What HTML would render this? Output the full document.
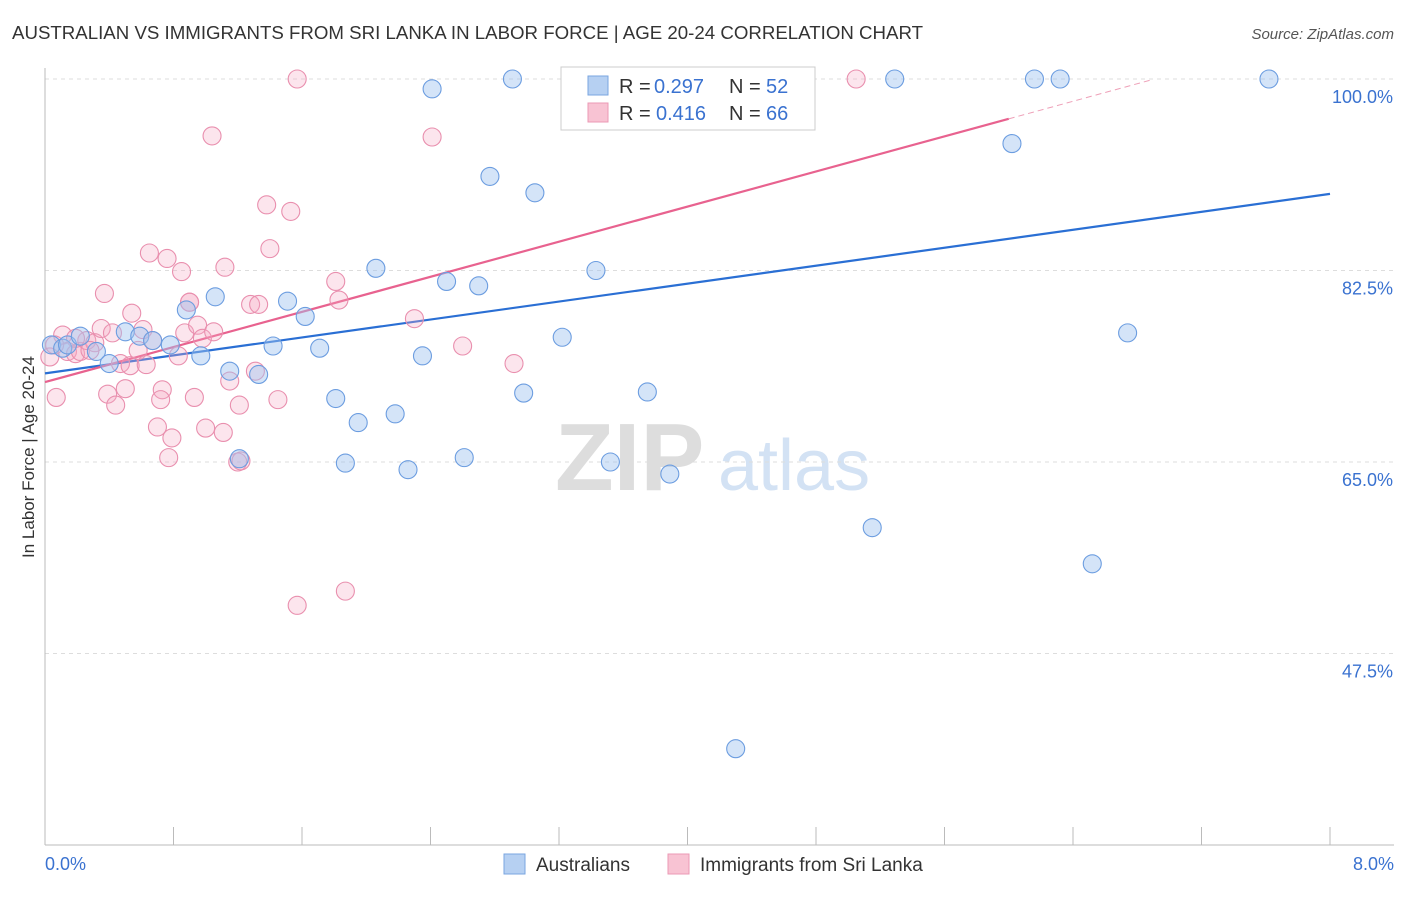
<!DOCTYPE html>
<html><head><meta charset="utf-8"><style>
body{margin:0;background:#fff;font-family:"Liberation Sans",sans-serif}
svg text{font-family:"Liberation Sans",sans-serif}
</style></head><body>
<svg id="chart" width="1406" height="892" viewBox="0 0 1406 892" xmlns="http://www.w3.org/2000/svg">
<text x="12" y="39" font-size="18" fill="#333" textLength="911" lengthAdjust="spacingAndGlyphs">AUSTRALIAN VS IMMIGRANTS FROM SRI LANKA IN LABOR FORCE | AGE 20-24 CORRELATION CHART</text>
<text x="1394" y="39" font-size="15" fill="#555" text-anchor="end" font-style="italic">Source: ZipAtlas.com</text>
<g>
<text x="555" y="490" font-size="96" fill="#ddd" font-family="Liberation Serif,serif" font-weight="bold">ZIP</text>
<text x="718" y="490" font-size="72" fill="#d3e2f4">atlas</text>
</g>
<g id="grid"></g><g id="axes"></g><g id="lines"></g><g id="pts"></g>
<text transform="translate(34,457) rotate(-90)" font-size="17" fill="#333" text-anchor="middle">In Labor Force | Age 20-24</text>
<g>
<rect x="561" y="67" width="254" height="63" fill="#fff" stroke="#ccc"/>
<rect x="588" y="76" width="20" height="19" fill="#b6d0f2" stroke="#7aa6e0"/>
<rect x="588" y="103" width="20" height="19" fill="#f8c3d3" stroke="#eb9ab4"/>
<text x="619" y="93" font-size="20" fill="#333">R =</text><text x="654" y="93" font-size="20" fill="#3a72d0">0.297</text>
<text x="729" y="93" font-size="20" fill="#333">N =</text><text x="766" y="93" font-size="20" fill="#3a72d0">52</text>
<text x="619" y="120" font-size="20" fill="#333">R =</text><text x="656" y="120" font-size="20" fill="#3a72d0">0.416</text>
<text x="729" y="120" font-size="20" fill="#333">N =</text><text x="766" y="120" font-size="20" fill="#3a72d0">66</text>
</g>
<g>
<rect x="504" y="854" width="21" height="20" fill="#b6d0f2" stroke="#7aa6e0"/>
<text x="536" y="871" font-size="19" fill="#333">Australians</text>
<rect x="668" y="854" width="21" height="20" fill="#f8c3d3" stroke="#eb9ab4"/>
<text x="700" y="871" font-size="19" fill="#333">Immigrants from Sri Lanka</text>
</g>
<text x="45" y="870" font-size="18" fill="#3a72d0">0.0%</text>
<text x="1394" y="870" font-size="18" fill="#3a72d0" text-anchor="end">8.0%</text>
</svg>
<script>
const yTicks=[47.5,65,82.5,100];
const yTickLabels=["47.5%","65.0%","82.5%","100.0%"];
const xTicks=[0,0.8,1.6,2.4,3.2,4,4.8,5.6,6.4,7.2,8];
const blueX=[0.04,0.11,0.14,0.22,0.32,0.40,0.50,0.59,0.67,0.78,0.88,0.97,1.06,1.15,1.21,1.33,1.42,1.51,1.62,1.71,1.81,1.87,1.95,2.06,2.18,2.26,2.35,2.41,2.50,2.61,2.70,2.77,2.91,2.98,3.05,3.22,3.36,3.43,3.52,3.75,3.89,4.30,4.51,4.73,5.15,5.29,6.02,6.16,6.32,6.52,6.74,7.62];
const blueY=[75.7,75.4,75.7,76.5,75.1,74.0,76.9,76.5,76.1,75.7,78.9,74.7,80.1,73.3,65.3,73.0,75.6,79.7,78.3,75.4,70.8,64.9,68.6,82.7,69.4,64.3,74.7,99.1,81.5,65.4,81.1,91.1,100,71.3,89.6,76.4,98.0,82.5,65.0,71.4,63.9,38.8,100,100,59.0,100,94.1,100,100,55.7,76.8,100];
const pinkX=[0.03,0.07,0.11,0.14,0.19,0.22,0.26,0.31,0.35,0.37,0.39,0.44,0.42,0.47,0.50,0.53,0.54,0.58,0.61,0.63,0.65,0.67,0.70,0.73,0.76,0.77,0.79,0.83,0.85,0.87,0.90,0.93,0.95,0.98,1.00,1.04,1.05,1.11,1.12,1.15,1.20,1.21,1.22,1.28,1.31,1.33,1.38,1.40,1.45,1.53,1.57,1.57,1.81,1.83,1.87,2.30,2.41,2.60,2.92,5.05,4.40,0.06,0.28,0.19,0.90,0.72];
const pinkY=[74.6,70.9,76.6,75.1,74.9,75.1,76.1,75.9,77.2,80.4,71.2,70.2,76.8,74.0,71.7,73.8,78.6,75.2,77.1,73.9,84.1,76.1,68.2,71.6,83.6,65.4,67.2,74.7,82.4,76.8,79.6,70.9,77.5,76.3,68.1,94.8,76.9,67.7,82.8,72.4,65.0,70.2,65.1,79.4,73.3,79.4,88.5,84.5,70.7,87.9,100,51.9,81.5,79.8,53.2,78.1,94.7,75.6,74.0,100,100,75.7,75.2,76.3,79.6,70.7];
const blueTrend=[73.1,89.5];
const pinkTrend=[72.3,4.01];
const NS="http://www.w3.org/2000/svg";
const X=v=>45+v/8*1285, Y=v=>845-(v-30)/70*766;
function mk(t,a,p){const e=document.createElementNS(NS,t);for(const k in a)e.setAttribute(k,a[k]);p.appendChild(e);return e;}
const grid=document.getElementById('grid'),axes=document.getElementById('axes'),lines=document.getElementById('lines'),pts=document.getElementById('pts');
yTicks.forEach((t,i)=>{
 const l=mk('line',{x1:45,x2:1394,y1:Y(t),y2:Y(t),stroke:'#ddd','stroke-dasharray':'4,4'},grid);
 
 
 const tx=mk('text',{x:1393,y:Y(t)+24,'font-size':18,fill:'#3a72d0','text-anchor':'end'},grid);
 tx.textContent=yTickLabels[i];
 
 
});
const ya=mk('line',{x1:45,x2:45,y1:68,y2:845,stroke:'#bbb'},axes);


const xa=mk('line',{x1:45,x2:1394,y1:845,y2:845,stroke:'#bbb'},axes);


xTicks.forEach(t=>{
 const k=mk('line',{x1:X(t),x2:X(t),y1:827,y2:845,stroke:'#bbb'},axes);
 
 
});
function dots(xs,ys,fill,stroke,name){
 xs.forEach((x,i)=>{
  const c=mk('circle',{cx:X(x),cy:Y(ys[i]),r:9,fill:fill,stroke:stroke,'stroke-width':1.1},pts);
  
  
 });
}
dots(pinkX,pinkY,'rgba(246,170,195,0.3)','#e98fae','sri-lanka-point');
dots(blueX,blueY,'rgba(160,196,240,0.45)','#6c9de0','australians-point');
const bl=mk('line',{x1:X(0),y1:Y(blueTrend[0]),x2:X(8),y2:Y(blueTrend[1]),stroke:'#2a6fd4','stroke-width':2.2},lines);


const pe=6.0, pd=6.9;
const pl=mk('line',{x1:X(0),y1:Y(pinkTrend[0]),x2:X(pe),y2:Y(pinkTrend[0]+pinkTrend[1]*pe),stroke:'#e8628f','stroke-width':2.2},lines);


const pdl=mk('line',{x1:X(pe),y1:Y(pinkTrend[0]+pinkTrend[1]*pe),x2:X(pd),y2:Y(pinkTrend[0]+pinkTrend[1]*pd),stroke:'#eea0b8','stroke-width':1,'stroke-dasharray':'6,4'},lines);


</script>
</body></html>
